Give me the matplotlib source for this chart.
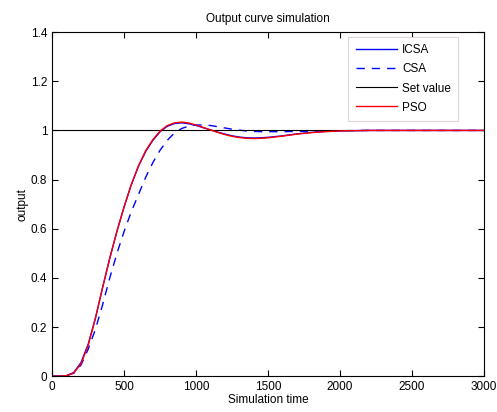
import matplotlib
matplotlib.use('Agg')
import matplotlib.pyplot as plt
import numpy as np

plt.rcParams['font.family'] = ['Liberation Sans', 'DejaVu Sans']

t = [0, 50, 100, 150, 200, 250, 300, 350, 400, 450, 500, 550, 600, 650, 700,
     750, 800, 850, 900, 950, 1000, 1050, 1100, 1150, 1200, 1250, 1300, 1350,
     1400, 1450, 1500, 1600, 1700, 1800, 1900, 2000, 2200, 2500, 3000]
icsa = [0, 0, 0.002, 0.015, 0.055, 0.13, 0.235, 0.36, 0.48, 0.59, 0.69, 0.78,
        0.855, 0.915, 0.96, 0.995, 1.017, 1.028, 1.031, 1.027, 1.020, 1.011,
        1.002, 0.993, 0.985, 0.978, 0.973, 0.970, 0.969, 0.970, 0.972, 0.978,
        0.986, 0.992, 0.996, 0.998, 1.0, 1.0, 1.0]
csa = [0, 0, 0.002, 0.012, 0.045, 0.11, 0.19, 0.29, 0.40, 0.50, 0.59, 0.67,
       0.74, 0.81, 0.87, 0.92, 0.96, 0.99, 1.008, 1.018, 1.022, 1.022, 1.020,
       1.015, 1.010, 1.005, 1.001, 0.998, 0.996, 0.995, 0.995, 0.995, 0.996,
       0.997, 0.998, 0.999, 1.0, 1.0, 1.0]
pso = [0, 0, 0.002, 0.013, 0.05, 0.125, 0.235, 0.36, 0.48, 0.59, 0.69,
       0.78, 0.857, 0.918, 0.963, 0.998, 1.020, 1.031, 1.034, 1.030, 1.022,
       1.012, 1.002, 0.992, 0.983, 0.976, 0.971, 0.968, 0.967, 0.968, 0.970,
       0.977, 0.985, 0.991, 0.995, 0.998, 1.0, 1.0, 1.0]
setpoint = 1.0

fig = plt.figure(figsize=(4.97, 4.12), dpi=100)
ax = fig.add_axes([0.105, 0.087, 0.869, 0.835])

ax.plot(t, icsa, color='#0000ff', lw=1, label='ICSA')
ax.plot(t, csa, color='#0000ff', lw=1, ls=(0, (6, 5)), label='CSA')
ax.axhline(setpoint, color='black', lw=0.8, label='Set value')
ax.plot(t, pso, color='#ff0000', lw=1, label='PSO')

ax.set_xlim(0, 3000)
ax.set_ylim(0, 1.4)
ax.set_xticks(np.arange(0, 3001, 500))
ax.set_yticks(np.arange(0, 1.41, 0.2))
ax.set_yticklabels(['0', '0.2', '0.4', '0.6', '0.8', '1', '1.2', '1.4'])
ax.tick_params(direction='in', top=True, right=True, labelsize=8.5, length=4)
ax.set_xlabel('Simulation time', fontsize=8.5, labelpad=1)
ax.set_ylabel('output', fontsize=8.5, labelpad=2)
ax.set_title('Output curve simulation', fontsize=8.5, pad=7)

leg = ax.legend(loc='upper right', bbox_to_anchor=(0.94, 0.985),
                fontsize=8.5, fancybox=False, framealpha=1,
                edgecolor='#e0d4d4', handlelength=3.5, handletextpad=0.45,
                borderaxespad=0, borderpad=0.6, labelspacing=0.6)
leg.get_frame().set_linewidth(0.8)

fig.savefig('out.png', dpi=100)
